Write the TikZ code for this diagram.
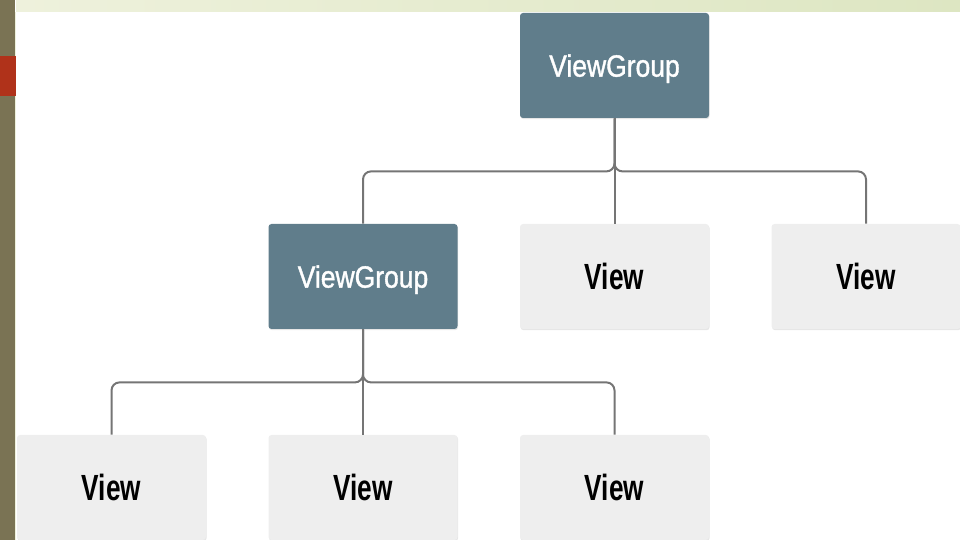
\documentclass[tikz,border=0pt]{standalone}
\usepackage{fontspec}
\setmainfont{Liberation Sans}
\newfontfamily\groupfont[FakeStretch=0.86,FakeBold=1.2]{Liberation Sans}
\newfontfamily\viewfont[FakeStretch=0.72]{Liberation Sans Bold}
\usetikzlibrary{positioning,shadows}
\definecolor{groupfill}{HTML}{607D8B}
\definecolor{leaffill}{HTML}{EEEEEE}
\definecolor{linkgray}{HTML}{757575}
\definecolor{stripolive}{HTML}{7A7354}
\definecolor{stripred}{HTML}{B0321A}
\definecolor{bandlight}{HTML}{EEF1DC}
\definecolor{banddark}{HTML}{DDE6C2}
\tikzset{
    box/.style={rectangle,rounded corners=1.5pt,minimum width=94.5pt,minimum height=52.5pt,
        inner sep=0pt,text depth=0pt,
        drop shadow={shadow xshift=0.3pt,shadow yshift=-0.6pt,opacity=0.2}},
    group/.style={box,fill=groupfill,text=white,font=\groupfont\fontsize{15.4}{18}\selectfont},
    leaf/.style={box,fill=leaffill,text=black,font=\viewfont\fontsize{18.2}{21}\selectfont}
}
\begin{document}
\begin{tikzpicture}[x=0.5pt,y=0.5pt,
        level distance=105.5pt,
        sibling distance=125.75pt,
        edge from parent/.style={draw=linkgray,line width=1pt},
        edge from parent path={[rounded corners=4pt]
            (\tikzparentnode.south) -- ++(0,-26.5pt) -| (\tikzchildnode.north)}]
    \useasboundingbox (0,0) rectangle (960,540);
    \clip (0,0) rectangle (960,540);
    % slide frame
    \shade[left color=bandlight,right color=banddark] (16,528) rectangle (960,540);
    \fill[stripolive] (0,0) rectangle (15,540);
    \fill[bandlight] (15,0) rectangle (16,528);
    \fill[stripred] (0,444) rectangle (16,484);
    % hierarchy
    \node[group] (root) at (614.5,474.5) {ViewGroup}
        child {node[group] (inner) {ViewGroup}
            child {node[leaf] (viewa) {View}}
            child {node[leaf] (viewb) {View}}
            child {node[leaf] (viewc) {View}}
        }
        child {node[leaf] (viewd) {View}}
        child {node[leaf] (viewe) {View}};
\end{tikzpicture}
\end{document}
